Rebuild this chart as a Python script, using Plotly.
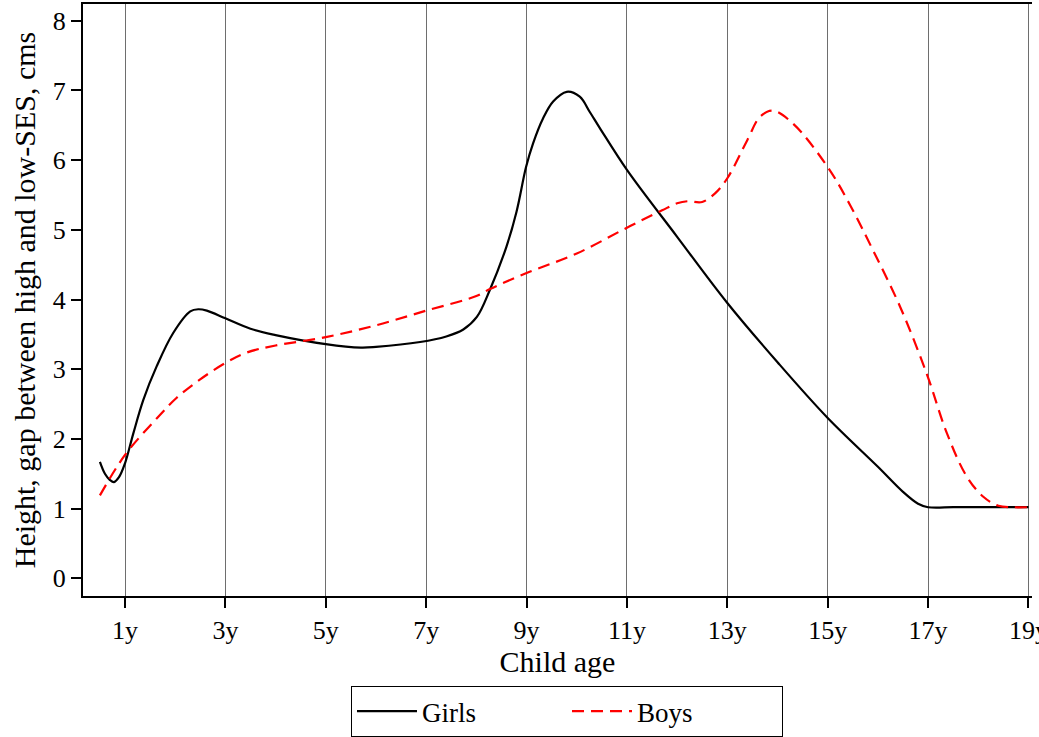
import plotly.graph_objects as go

girls_age = [0.5, 0.6, 0.7, 0.78, 0.88, 1.0, 1.166, 1.365, 1.63, 1.96, 2.3, 2.46, 2.63, 3.0, 3.5, 4.0,
             5.0, 5.7, 6.0, 6.88, 7.4, 7.74, 8.01, 8.27, 8.6, 8.8, 8.99, 9.13, 9.33, 9.53, 9.8,
             10.06, 10.26, 10.46, 11.0, 12.0, 13.0, 14.0, 15.0, 16.0, 16.5, 16.8, 17.0, 17.5, 18.0, 19.0]
girls_gap = [1.67, 1.50, 1.41, 1.38, 1.45, 1.65, 2.08, 2.56, 3.04, 3.52, 3.83, 3.86, 3.84, 3.73, 3.58, 3.49,
             3.36, 3.31, 3.32, 3.39, 3.47, 3.57, 3.75, 4.14, 4.76, 5.26, 5.90, 6.24, 6.60, 6.84, 6.98,
             6.91, 6.69, 6.46, 5.86, 4.90, 3.95, 3.10, 2.30, 1.60, 1.24, 1.07, 1.02, 1.02, 1.02, 1.02]

boys_age = [0.5, 1.0, 1.64, 2.03, 2.49, 3.0, 3.43, 4.0, 5.0, 6.0, 7.0, 8.0, 8.27, 9.0, 10.0, 11.0,
            11.7, 12.0, 12.2, 12.5, 12.75, 13.0, 13.4, 13.65, 13.9, 14.3, 15.0, 15.45, 15.9, 16.44,
            16.98, 17.37, 17.77, 18.1, 18.4, 18.7, 19.0]
boys_gap = [1.19, 1.77, 2.30, 2.59, 2.85, 3.09, 3.24, 3.34, 3.46, 3.63, 3.84, 4.05, 4.15, 4.38, 4.66, 5.03,
            5.28, 5.38, 5.41, 5.40, 5.52, 5.74, 6.29, 6.62, 6.71, 6.53, 5.90, 5.35, 4.71, 3.90,
            2.92, 2.09, 1.46, 1.17, 1.04, 1.02, 1.02]

x_ticks = [1, 3, 5, 7, 9, 11, 13, 15, 17, 19]
x_tick_labels = ["1y", "3y", "5y", "7y", "9y", "11y", "13y", "15y", "17y", "19y"]
y_ticks = [0, 1, 2, 3, 4, 5, 6, 7, 8]

FONT = "Liberation Serif"

fig = go.Figure()
fig.add_trace(go.Scatter(x=girls_age, y=girls_gap, mode="lines", name="Girls",
                         line=dict(color="black", width=2.2, shape="spline", smoothing=1.0)))
fig.add_trace(go.Scatter(x=boys_age, y=boys_gap, mode="lines", name="Boys",
                         line=dict(color="#ff0000", width=2.2, dash="12px,7px", shape="spline", smoothing=1.0)))

fig.update_layout(
    width=1039, height=737,
    margin=dict(l=83, r=7, t=4, b=141),
    paper_bgcolor="white", plot_bgcolor="white",
    font=dict(family=FONT, size=26, color="black"),
    showlegend=True,
    legend=dict(orientation="h", x=0.51, xanchor="center", yref="container", y=0.069, yanchor="top",
                bordercolor="black", borderwidth=1, font=dict(size=27),
                itemwidth=60, entrywidth=140, tracegroupgap=0),
    xaxis=dict(range=[0.163, 19.07], tickvals=x_ticks, ticktext=x_tick_labels,
               showgrid=True, gridcolor="#6e6e6e", gridwidth=1,
               showline=True, linecolor="black", linewidth=2, mirror=True,
               ticks="outside", ticklen=10, tickwidth=1.5, tickcolor="black",
               zeroline=False, automargin=False, ticklabeloverflow="allow",
               title=dict(text="Child age", font=dict(size=30), standoff=2)),
    yaxis=dict(range=[-0.254, 8.24], tickvals=y_ticks,
               showgrid=False, showline=True, linecolor="black", linewidth=2,
               ticks="outside", ticklen=10, tickwidth=1.5, tickcolor="black",
               zeroline=False, automargin=False,
               title=dict(text="Height, gap between high and low-SES, cms", font=dict(size=30), standoff=8)),
)

fig.write_html("out.html", config={"displayModeBar": False},
               post_script="document.body.style.margin='0';document.body.style.overflow='hidden';")
